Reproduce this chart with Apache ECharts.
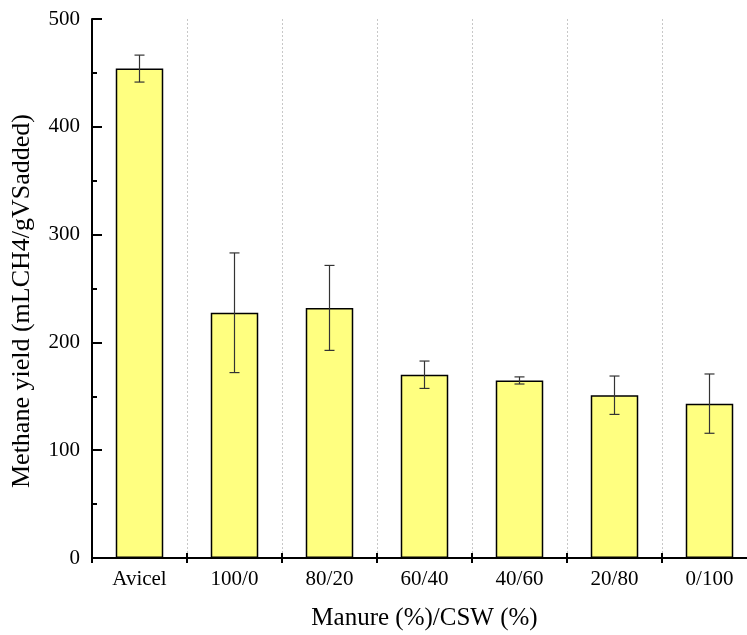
<!DOCTYPE html>
<html>
<head>
<meta charset="utf-8">
<script src="https://cdn.jsdelivr.net/npm/echarts@6/dist/echarts.min.js"></script>
<style>html,body{margin:0;padding:0;background:#fff;}#c{width:747px;height:635px;}</style>
</head>
<body>
<div id="c"></div>
<script>
var categories = ['Avicel', '100/0', '80/20', '60/40', '40/60', '20/80', '0/100'];
var yieldValues = [454, 227.5, 232, 170, 164.7, 151, 143.2];
var errorValues = [12.5, 55.5, 39.4, 12.7, 3.3, 17.8, 27.5];
var yTicks = [0, 100, 200, 300, 400, 500];

var font = 'Liberation Serif';
var chart = echarts.init(document.getElementById('c'));
var errData = categories.map(function (c, i) {
  return [i, yieldValues[i] - errorValues[i], yieldValues[i] + errorValues[i]];
});
chart.setOption({
  animation: false,
  grid: { left: 92, width: 665, top: 19, height: 539, containLabel: false, outerBoundsMode: 'none' },
  graphic: [{
    type: 'text', x: 22, y: 301, rotation: Math.PI / 2,
    style: { text: 'Methane yield (mLCH4/gVSadded)', font: '26px "Liberation Serif"', fill: '#000',
      textAlign: 'center', textVerticalAlign: 'middle' }
  }],
  xAxis: [{
    type: 'category', data: categories, position: 'bottom',
    axisLine: { lineStyle: { color: '#000', width: 2 } },
    axisTick: { show: true, inside: true, length: 5, interval: 0, lineStyle: { color: '#000', width: 2 } },
    axisLabel: { color: '#000', fontFamily: font, fontSize: 21, margin: 11, interval: 0 },
    splitLine: { show: true, interval: 0, lineStyle: { color: '#c8c8c8', type: [2, 2], width: 1 } },
    name: 'Manure (%)/CSW (%)', nameLocation: 'middle', nameGap: 48,
    nameTextStyle: { color: '#000', fontFamily: font, fontSize: 25 }
  }, {
    type: 'category', data: categories, position: 'top',
    axisLine: { lineStyle: { color: '#000', width: 2 } },
    axisTick: { show: true, inside: true, length: 5, interval: 0, lineStyle: { color: '#000', width: 2 } },
    axisLabel: { show: false }
  }],
  yAxis: [{
    type: 'value', min: yTicks[0], max: yTicks[yTicks.length - 1], interval: 100,
    axisLine: { show: true, lineStyle: { color: '#000', width: 2 } },
    axisTick: { show: true, inside: true, length: 10, lineStyle: { color: '#000', width: 2 } },
    minorTick: { show: true, splitNumber: 2, length: 5, lineStyle: { color: '#000', width: 2 } },
    axisLabel: { color: '#000', fontFamily: font, fontSize: 21, margin: 12 },
    splitLine: { show: false }
  }, {
    type: 'value', min: yTicks[0], max: yTicks[yTicks.length - 1], interval: 100, position: 'right',
    axisLine: { show: true, lineStyle: { color: '#000', width: 2 } },
    axisTick: { show: true, inside: true, length: 10, lineStyle: { color: '#000', width: 2 } },
    minorTick: { show: true, splitNumber: 2, length: 5, lineStyle: { color: '#000', width: 2 } },
    axisLabel: { show: false },
    splitLine: { show: false }
  }],
  series: [{
    type: 'bar', data: yieldValues, barWidth: '50%', xAxisIndex: 0, yAxisIndex: 0,
    itemStyle: { color: '#FFFF80', borderColor: '#000', borderWidth: 1.5 }
  }, {
    type: 'custom', data: errData, xAxisIndex: 0, yAxisIndex: 0, z: 5,
    renderItem: function (params, api) {
      var x = api.value(0);
      var lo = api.coord([x, api.value(1)]);
      var hi = api.coord([x, api.value(2)]);
      var hw = 5;
      var st = { stroke: '#333', lineWidth: 1.2 };
      return {
        type: 'group', children: [
          { type: 'line', shape: { x1: lo[0], y1: lo[1], x2: hi[0], y2: hi[1] }, style: st },
          { type: 'line', shape: { x1: lo[0] - hw, y1: lo[1], x2: lo[0] + hw, y2: lo[1] }, style: st },
          { type: 'line', shape: { x1: hi[0] - hw, y1: hi[1], x2: hi[0] + hw, y2: hi[1] }, style: st }
        ]
      };
    }
  }]
});
</script>
</body>
</html>
